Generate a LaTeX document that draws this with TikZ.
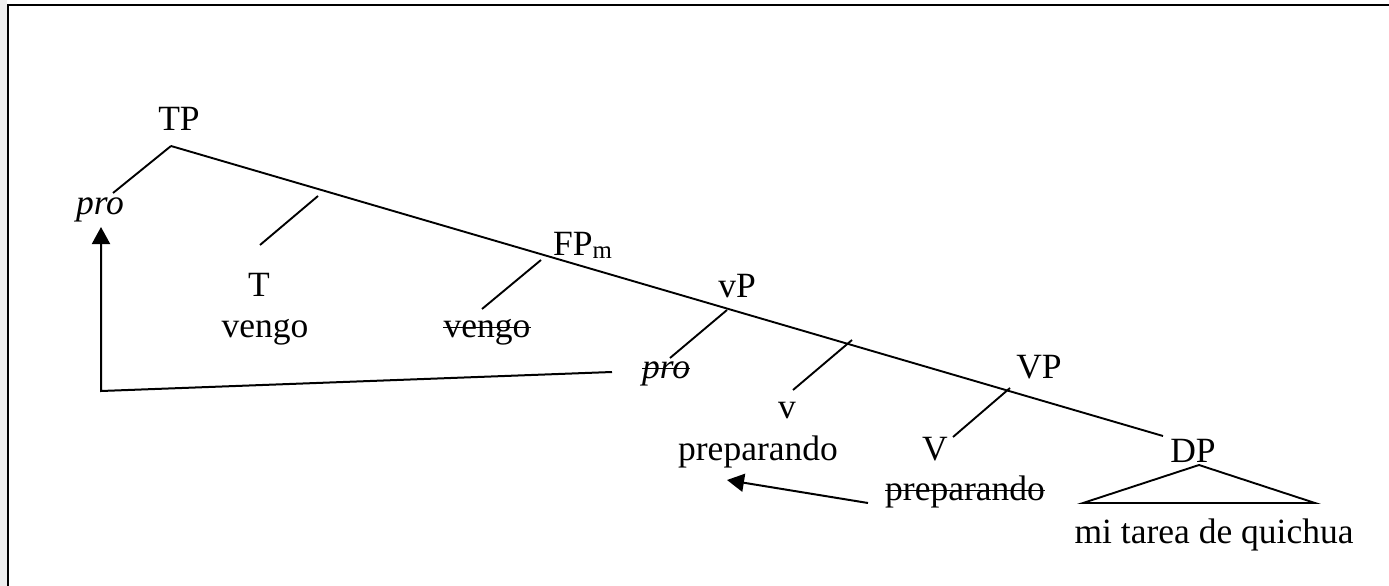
\documentclass[tikz,border=0pt]{standalone}
\usepackage{fontspec}
\setmainfont{Liberation Serif}
\usetikzlibrary{arrows.meta}
\definecolor{edgegray}{RGB}{238, 238, 238}
\tikzset{
    treeline/.style={line width=1.9pt, color=black},
    strikeline/.style={line width=1.7pt, color=black},
    moveline/.style={line width=2pt, color=black, -{Triangle[length=17pt, width=18pt]}},
    framesolid/.style={line width=2.2pt, color=black},
    cat/.style={anchor=base, inner sep=0pt}
}

\begin{document}
\begin{tikzpicture}[x=1pt, y=-1pt, font=\fontsize{35.5}{42}\selectfont]
        \useasboundingbox (0,0) rectangle (1389,586);
        \fill[edgegray] (0,0) rectangle (7,586);
        \draw[framesolid] (8,586) -- (8,5) -- (1389,5);

        % spine and branch points
        \coordinate (TPtop) at (171,146);
        \coordinate (DPend) at (1163,436);
        \coordinate (Tbar) at (318,196);
        \coordinate (Tend) at (260,245);
        \coordinate (FPbar) at (541,260);
        \coordinate (FPend) at (482,309);
        \coordinate (vPbar) at (727,310);
        \coordinate (vPend) at (670,358);
        \coordinate (vbar) at (852,340);
        \coordinate (vend) at (793,390);
        \coordinate (VPbar) at (1010,388);
        \coordinate (VPend) at (953,437);
        \coordinate (proend) at (113,193);
        \coordinate (DPtop) at (1199,465);
        \coordinate (DPleft) at (1083,503);
        \coordinate (DPright) at (1315,503);

        % movement paths
        \coordinate (proA) at (612,372);
        \coordinate (proB) at (101,391);
        \coordinate (proC) at (101,227);
        \coordinate (prepA) at (868,503);
        \coordinate (prepB) at (727,480);

        \draw[treeline] (TPtop) -- (DPend);
        \draw[treeline] (TPtop) -- (proend);
        \draw[treeline] (Tbar) -- (Tend);
        \draw[treeline] (FPbar) -- (FPend);
        \draw[treeline] (vPbar) -- (vPend);
        \draw[treeline] (vbar) -- (vend);
        \draw[treeline] (VPbar) -- (VPend);
        \draw[treeline] (DPleft) -- (DPtop) -- (DPright) -- cycle;

        \draw[moveline] (proA) -- (proB) -- (proC);
        \draw[moveline] (prepA) -- (prepB);

        \node[cat] (TP) at (179,130) {TP};
        \node[cat] (pro) at (100,214) {\textit{pro}};
        \node[cat] (T) at (259,296) {T};
        \node[cat] (vengo) at (265,337) {vengo};
        \node[cat] (vengox) at (487,337) {vengo};
        \node[cat, anchor=base west] (FPm) at (553,255) {FP\textsubscript{m}};
        \node[cat] (vP) at (737,297) {vP};
        \node[cat] (prox) at (666,378) {\textit{pro}};
        \node[cat] (v) at (787,418) {v};
        \node[cat] (prep) at (758,460) {preparando};
        \node[cat] (VP) at (1039,378) {VP};
        \node[cat] (V) at (935,460) {V};
        \node[cat] (prepx) at (965,500) {preparando};
        \node[cat] (DP) at (1193,462) {DP};
        \node[cat] (obj) at (1214,543) {mi tarea de quichua};

        % struck-out copies
        \foreach \w in {vengox, prox, prepx}
            \draw[strikeline] ([yshift=9.5pt]\w.base west) -- ([yshift=9.5pt]\w.base east);

    \end{tikzpicture}
\end{document}
